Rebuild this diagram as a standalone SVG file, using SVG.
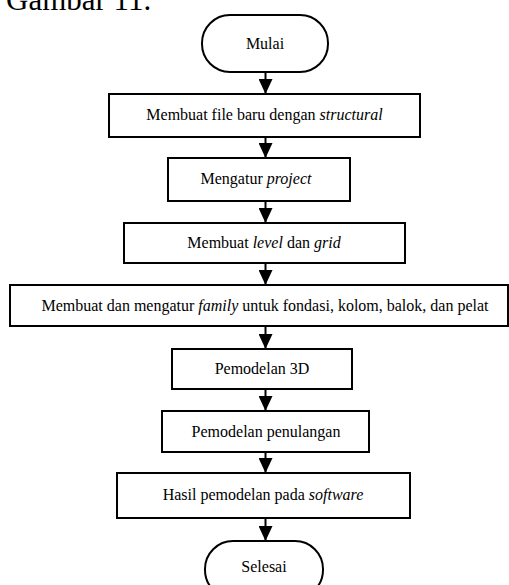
<svg xmlns="http://www.w3.org/2000/svg" width="509" height="585" viewBox="0 0 509 585">
<style>
  .shape { fill: #ffffff; stroke: #000000; stroke-width: 2; }
  .lbl { font-family: "Liberation Serif", "Times New Roman", serif; font-size: 16px; fill: #000000; text-anchor: middle; }
  .it { font-style: italic; }
  .conn { stroke: #000000; stroke-width: 2; fill: none; marker-end: url(#arrow); }
  .title { font-family: "Liberation Serif", "Times New Roman", serif; font-size: 31px; fill: #000000; }
</style>
<defs>
  <marker id="arrow" viewBox="0 -7 15 14" refX="15" refY="0" markerWidth="15" markerHeight="14" markerUnits="userSpaceOnUse" orient="auto">
    <path d="M0,-7 L15,0 L0,7 Z" fill="#000000"/>
  </marker>
</defs>
<rect width="509" height="585" fill="#ffffff"/>
<text class="title" x="6" y="10">Gambar 11.</text>

<g id="connectors">
  <line class="conn" x1="265.5" y1="72" x2="265.5" y2="94"/>
  <line class="conn" x1="265.5" y1="137" x2="265.5" y2="158"/>
  <line class="conn" x1="265.5" y1="201" x2="265.5" y2="223"/>
  <line class="conn" x1="265.5" y1="263" x2="265.5" y2="285"/>
  <line class="conn" x1="265.5" y1="326" x2="265.5" y2="349"/>
  <line class="conn" x1="265.5" y1="389" x2="265.5" y2="411"/>
  <line class="conn" x1="265.5" y1="452" x2="265.5" y2="473"/>
  <line class="conn" x1="265.5" y1="518" x2="265.5" y2="541"/>
</g>

<g id="start">
  <rect class="shape" x="202" y="15" width="126" height="57" rx="28" ry="28"/>
  <text class="lbl" x="265" y="49">Mulai</text>
</g>
<g id="step1">
  <rect class="shape" x="109" y="94" width="311" height="43"/>
  <text class="lbl" x="264.5" y="120">Membuat file baru dengan <tspan class="it">structural</tspan></text>
</g>
<g id="step2">
  <rect class="shape" x="168" y="158" width="182" height="43"/>
  <text class="lbl" x="256" y="184">Mengatur <tspan class="it">project</tspan></text>
</g>
<g id="step3">
  <rect class="shape" x="124" y="223" width="281" height="40"/>
  <text class="lbl" x="264" y="248">Membuat <tspan class="it">level</tspan> dan <tspan class="it">grid</tspan></text>
</g>
<g id="step4">
  <rect class="shape" x="10" y="285" width="498" height="41"/>
  <text class="lbl" x="265" y="311">Membuat dan mengatur <tspan class="it">family</tspan> untuk fondasi, kolom, balok, dan pelat</text>
</g>
<g id="step5">
  <rect class="shape" x="172" y="349" width="180" height="40"/>
  <text class="lbl" x="262" y="374">Pemodelan 3D</text>
</g>
<g id="step6">
  <rect class="shape" x="162" y="411" width="207" height="41"/>
  <text class="lbl" x="266" y="437">Pemodelan penulangan</text>
</g>
<g id="step7">
  <rect class="shape" x="117" y="473" width="293" height="45"/>
  <text class="lbl" x="263" y="500">Hasil pemodelan pada <tspan class="it">software</tspan></text>
</g>
<g id="end">
  <rect class="shape" x="205" y="541" width="118" height="57" rx="28" ry="28"/>
  <text class="lbl" x="264" y="572">Selesai</text>
</g>
</svg>
